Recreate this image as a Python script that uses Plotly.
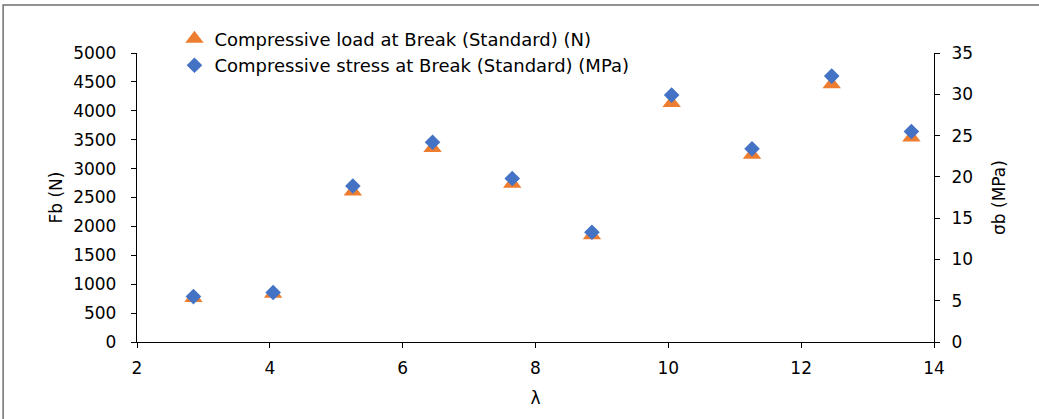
import plotly.graph_objects as go

# Slenderness ratio of each specimen
slenderness = [2.85, 4.05, 5.25, 6.45, 7.65, 8.85, 10.05, 11.26, 12.46, 13.66]
# Compressive load at break (N)
load_n = [760, 835, 2605, 3355, 2740, 1845, 4135, 3240, 4460, 3540]
# Compressive stress at break (MPa)
stress_mpa = [5.5, 6.0, 18.9, 24.2, 19.8, 13.3, 29.9, 23.4, 32.2, 25.5]

x_ticks = [2, 4, 6, 8, 10, 12, 14]
load_ticks = list(range(0, 5001, 500))
stress_ticks = list(range(0, 36, 5))

FONT = "DejaVu Sans, Arial, sans-serif"
FSIZE = 17
ORANGE = "#ED7D31"
BLUE = "#4472C4"

fig = go.Figure()
fig.add_trace(go.Scatter(
    x=slenderness, y=load_n, mode="markers",
    name="Compressive load at Break (Standard) (N)",
    marker=dict(symbol="triangle-up", size=16, color=ORANGE),
    yaxis="y",
))
fig.add_trace(go.Scatter(
    x=slenderness, y=stress_mpa, mode="markers",
    name="Compressive stress at Break (Standard) (MPa)",
    marker=dict(symbol="diamond", size=12, color=BLUE),
    yaxis="y2",
))

axis_common = dict(
    showgrid=False, zeroline=False, showline=True, linecolor="black", linewidth=1.3,
    ticks="outside", ticklen=5, tickwidth=1.3, tickcolor="black",
    tickfont=dict(family=FONT, size=FSIZE, color="black"),
)

fig.update_layout(
    width=1039, height=419,
    margin=dict(l=137, r=105, t=53, b=77),
    paper_bgcolor="white", plot_bgcolor="white",
    font=dict(family=FONT, size=FSIZE, color="black"),
    showlegend=True,
    legend=dict(
        x=0.047, y=1.112, xanchor="left", yanchor="top",
        bgcolor="rgba(0,0,0,0)", font=dict(family=FONT, size=18, color="black"),
        itemsizing="trace", tracegroupgap=0,
    ),
    xaxis=dict(
        range=[2, 14], tickvals=x_ticks, ticklabelstandoff=5,
        title=dict(text="λ", font=dict(family=FONT, size=FSIZE), standoff=15),
        **axis_common,
    ),
    yaxis=dict(
        range=[0, 5000], tickvals=load_ticks, ticklabelstandoff=11,
        title=dict(text="Fb (N)", font=dict(family=FONT, size=FSIZE), standoff=6),
        **axis_common,
    ),
    yaxis2=dict(
        range=[0, 35], tickvals=stress_ticks, overlaying="y", side="right",
        ticklabelstandoff=8,
        title=dict(text="σb (MPa)", font=dict(family=FONT, size=FSIZE), standoff=20),
        **axis_common,
    ),
    shapes=[dict(
        type="rect", xref="paper", yref="paper",
        x0=-0.168, x1=1.2, y0=-0.4, y1=1.166,
        line=dict(color="#6f6f6f", width=1.5), fillcolor="rgba(0,0,0,0)",
        layer="below",
    )],
)

fig.write_html("out.html")
